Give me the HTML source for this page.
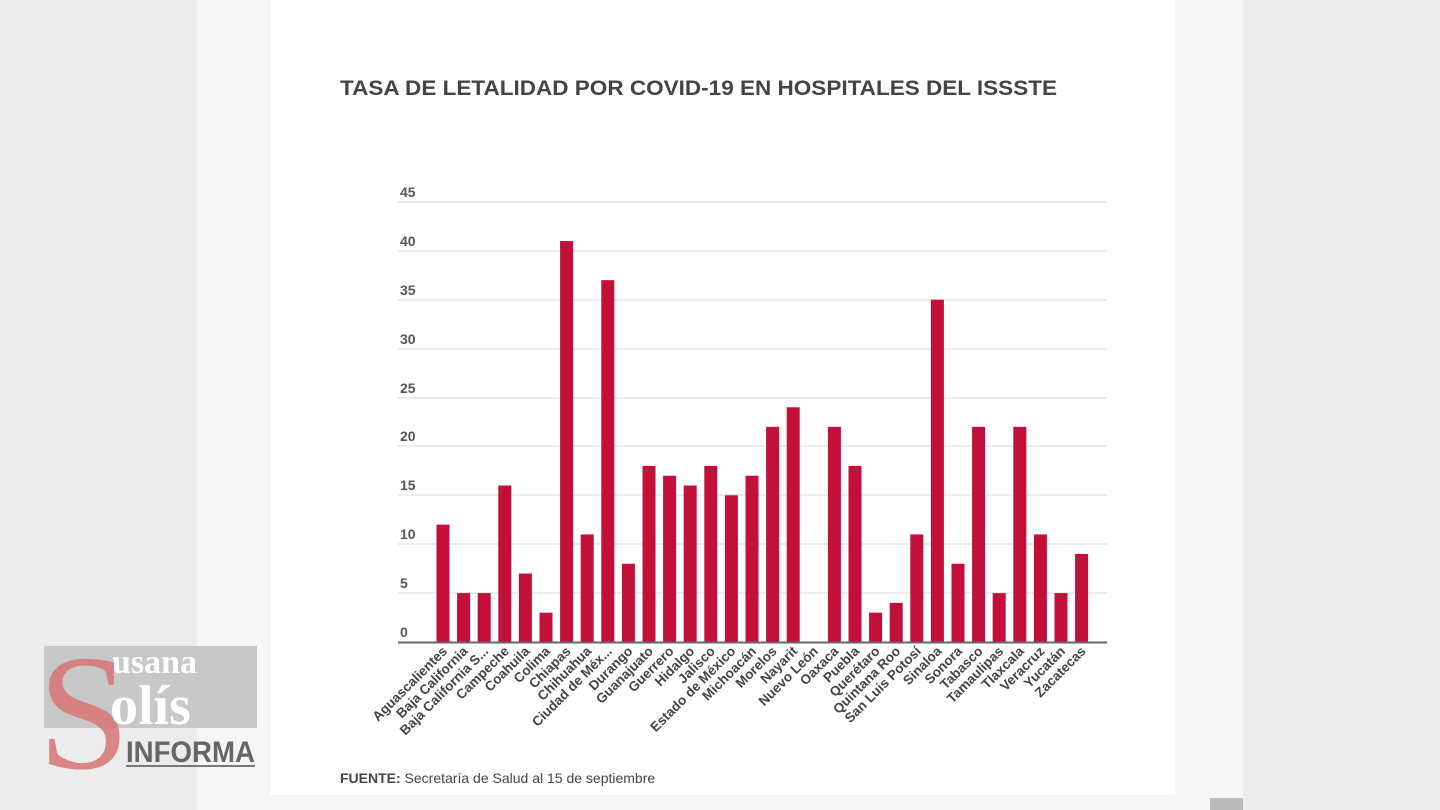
<!DOCTYPE html>
<html><head><meta charset="utf-8"><style>
body{margin:0;width:1440px;height:810px;overflow:hidden;background:#ececec;font-family:"Liberation Sans",sans-serif}
</style></head><body>
<svg width="1440" height="810" xmlns="http://www.w3.org/2000/svg" style="position:absolute;left:0;top:0">
<rect x="197" y="0" width="1046" height="810" fill="#f6f6f6"/>
<rect x="270" y="0" width="905" height="795" fill="#ffffff"/>
<rect x="1210" y="798" width="33" height="12" fill="#bbb"/>
<text x="340" y="95" font-size="21" font-weight="bold" fill="#444" textLength="717" lengthAdjust="spacingAndGlyphs">TASA DE LETALIDAD POR COVID-19 EN HOSPITALES DEL ISSSTE</text>
<g stroke="#e6e6e6" stroke-width="1.5">
<line x1="398" x2="1107" y1="202" y2="202"/><line x1="398" x2="1107" y1="251" y2="251"/>
<line x1="398" x2="1107" y1="300" y2="300"/><line x1="398" x2="1107" y1="349" y2="349"/>
<line x1="398" x2="1107" y1="398" y2="398"/><line x1="398" x2="1107" y1="446" y2="446"/>
<line x1="398" x2="1107" y1="495" y2="495"/><line x1="398" x2="1107" y1="544" y2="544"/>
<line x1="398" x2="1107" y1="593" y2="593"/>
</g>
<g font-size="14" fill="#555" font-weight="bold">
<text x="400" y="197">45</text><text x="400" y="246">40</text><text x="400" y="295">35</text>
<text x="400" y="344">30</text><text x="400" y="393">25</text><text x="400" y="441">20</text>
<text x="400" y="490">15</text><text x="400" y="539">10</text><text x="400" y="588">5</text>
<text x="400" y="637">0</text>
</g>
<g id="bars" fill="#c3103a"></g>
<line x1="398" x2="1107" y1="642.5" y2="642.5" stroke="#666" stroke-width="2"/>
<g id="labels" font-size="13.5" fill="#444" font-weight="bold"></g>
<text x="340" y="783" font-size="14" fill="#444"><tspan font-weight="bold">FUENTE:</tspan> Secretaría de Salud al 15 de septiembre</text>
<!-- logo -->
<rect x="44" y="646" width="213" height="82" fill="#c8c8c8"/>
<text x="38" y="768" font-family="Liberation Serif" font-size="165" fill="#d87474" fill-opacity="0.85">S</text>
<text x="112" y="673" font-family="Liberation Serif" font-size="34" fill="#fff" font-weight="bold">usana</text>
<text x="110" y="724" font-family="Liberation Serif" font-size="56" fill="#fff" font-weight="bold">olís</text>
<text x="126" y="762" font-size="30" fill="#666" font-weight="bold" textLength="129" lengthAdjust="spacingAndGlyphs">INFORMA</text>
<line x1="126" x2="255" y1="766" y2="766" stroke="#777" stroke-width="2"/>
</svg>
<script>
var names=["Aguascalientes","Baja California","Baja California S...","Campeche","Coahuila","Colima","Chiapas","Chihuahua","Ciudad de Méx...","Durango","Guanajuato","Guerrero","Hidalgo","Jalisco","Estado de México","Michoacán","Morelos","Nayarit","Nuevo León","Oaxaca","Puebla","Querétaro","Quintana Roo","San Luis Potosí","Sinaloa","Sonora","Tabasco","Tamaulipas","Tlaxcala","Veracruz","Yucatán","Zacatecas"];
var v=[12,5,5,16,7,3,41,11,37,8,18,17,16,18,15,17,22,24,0,22,18,3,4,11,35,8,22,5,22,11,5,9];
var ns="http://www.w3.org/2000/svg",b=document.getElementById("bars"),l=document.getElementById("labels");
for(var i=0;i<32;i++){var cx=443+i*20.6;var h=v[i]*9.78;
if(h>0){var r=document.createElementNS(ns,"rect");r.setAttribute("x",cx-6.5);r.setAttribute("y",642-h);r.setAttribute("width",13);r.setAttribute("height",h);b.appendChild(r);}
var t=document.createElementNS(ns,"text");t.setAttribute("text-anchor","end");t.setAttribute("transform","translate("+(cx+5)+",652) rotate(-45)");t.textContent=names[i];l.appendChild(t);}
</script>
</body></html>
